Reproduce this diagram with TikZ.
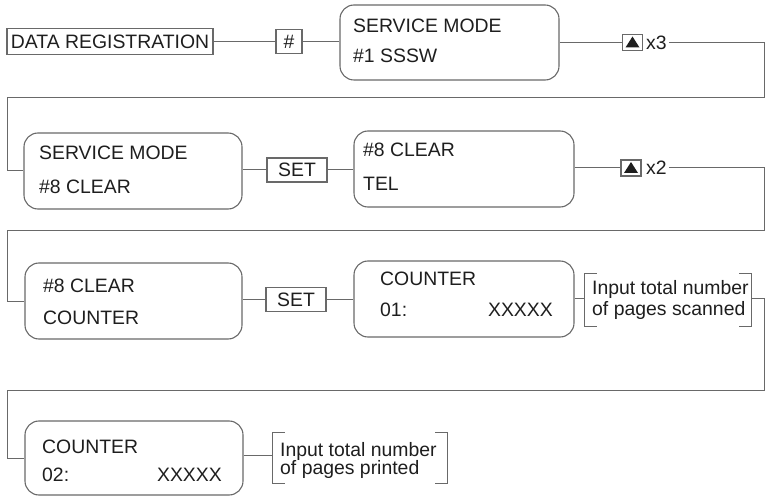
\documentclass[tikz,border=0pt]{standalone}
\usepackage{fontspec}
\setmainfont{Liberation Sans}
\definecolor{linegray}{RGB}{105,105,105}
\definecolor{txtcol}{RGB}{30,30,30}
\newcommand\mydiafont{\fontsize{19.4bp}{22bp}\selectfont}
\tikzset{
  ln/.style={draw=linegray, line width=1bp},
  rbox/.style={draw=linegray, line width=1.1bp, rounded corners=14bp, inner sep=0pt},
  sbox/.style={draw=linegray, line width=1.1bp, inner sep=0pt},
  txt/.style={font=\mydiafont, text=txtcol, inner sep=0pt, anchor=base west},
  ctxt/.style={font=\mydiafont, text=txtcol},
  xtxt/.style={font=\mydiafont, text=txtcol, inner ysep=0pt, inner xsep=2bp, anchor=base west},
  brk/.style={inner sep=0pt},
}
\begin{document}
\begin{tikzpicture}[x=1bp,y=-1bp]
\useasboundingbox (0,0) rectangle (767,496);
% Row 1
\node[sbox, ctxt, inner sep=0pt, minimum width=206bp, minimum height=26bp] (dr) at (110,41.5) {DATA REGISTRATION};
\node[sbox, ctxt, inner sep=0pt, minimum width=26bp, minimum height=24bp] (hash) at (289,41.5) {\#};
\node[rbox, minimum width=219bp, minimum height=75bp] (sm1) at (449.5,42.5) {};
\node[txt] (sm1a) at (353,33) {SERVICE MODE};
\node[txt] (sm1b) at (353,63) {\#1 SSSW};
\node[sbox, minimum width=20bp, minimum height=16bp] (up1) at (632.5,42.5) {};
\fill[txtcol] ([shift={(-7,5)}]up1.center) -- ([shift={(7,5)}]up1.center) -- ([shift={(0,-6)}]up1.center) -- cycle;
\node[xtxt] (x3) at (644,49.5) {x3};
\draw[ln] (dr.east) -- (hash.west);
\draw[ln] (hash.east) -- (hash.east -| sm1.west);
\draw[ln] (sm1.east) -- (up1.west);
\coordinate (r1) at (764,42.5);
% Row 2
\node[rbox, minimum width=218bp, minimum height=76bp] (sm2) at (133,171) {};
\node[txt] (sm2a) at (39,160) {SERVICE MODE};
\node[txt] (sm2b) at (39,194) {\#8 CLEAR};
\node[sbox, ctxt, inner sep=0pt, minimum width=60bp, minimum height=24bp] (set1) at (297,170) {SET};
\node[rbox, minimum width=220bp, minimum height=76bp] (tel) at (464,169) {};
\node[txt] (tela) at (363,157) {\#8 CLEAR};
\node[txt] (telb) at (363,191) {TEL};
\node[sbox, minimum width=20bp, minimum height=16bp] (up2) at (631,168) {};
\fill[txtcol] ([shift={(-7,5)}]up2.center) -- ([shift={(7,5)}]up2.center) -- ([shift={(0,-6)}]up2.center) -- cycle;
\node[xtxt] (x2) at (644,175) {x2};
\coordinate (r2) at (764,168);
% Row 3
\node[rbox, minimum width=217bp, minimum height=76bp] (cl) at (133.5,301) {};
\node[txt] (cla) at (43,293) {\#8 CLEAR};
\node[txt] (clb) at (43,324) {COUNTER};
\node[sbox, ctxt, inner sep=0pt, minimum width=60bp, minimum height=24bp] (set2) at (296,299.5) {SET};
\node[rbox, minimum width=220bp, minimum height=76bp] (c01) at (464,299) {};
\node[txt] (c01a) at (380,286) {COUNTER};
\node[txt] (c01b) at (380,316) {01:};
\node[txt, anchor=base east] (c01c) at (553,316) {XXXXX};
\node[brk, minimum width=166bp, minimum height=52bp] (b1) at (668,300) {};
\node[txt] (b1a) at (592,295) {Input total number};
\node[txt] (b1b) at (592,315) {of pages scanned};
\coordinate (r3) at (764,298);
% Row 4
\node[rbox, minimum width=218bp, minimum height=74bp] (c02) at (134,458) {};
\node[txt] (c02a) at (42,453) {COUNTER};
\node[txt] (c02b) at (42,481) {02:};
\node[txt, anchor=base east] (c02c) at (222,481) {XXXXX};
\node[brk, minimum width=174bp, minimum height=50bp] (b2) at (360,458) {};
\node[txt] (b2a) at (280,456) {Input total number};
\node[txt] (b2b) at (280,474) {of pages printed};
% brackets
\foreach \b in {b1,b2}{
  \draw[ln] ([xshift=12bp]\b.north west) -- (\b.north west) -- (\b.south west) -- ([xshift=12bp]\b.south west);
  \draw[ln] ([xshift=-12bp]\b.north east) -- (\b.north east) -- (\b.south east) -- ([xshift=-12bp]\b.south east);
}
% connectors
\draw[ln] (x3.east |- r1) -- (r1) |- (7,98) |- (sm2.west);
\draw[ln] (sm2.east |- set1) -- (set1.west);
\draw[ln] (set1.east) -- (set1.east -| tel.west);
\draw[ln] (tel.east |- up2) -- (up2.west);
\draw[ln] (x2.east |- r2) -- (r2) |- (7,231) |- (cl.west);
\draw[ln] (cl.east |- set2) -- (set2.west);
\draw[ln] (set2.east) -- (set2.east -| c01.west);
\draw[ln] (c01.east |- r3) -- (c01.east |- r3 -| b1.west);
\draw[ln] (b1.east |- r3) -- (r3) |- (7,390) |- (c02.west);
\draw[ln] (c02.east |- 0,455) -- (b2.west |- 0,455);
\end{tikzpicture}
\end{document}
